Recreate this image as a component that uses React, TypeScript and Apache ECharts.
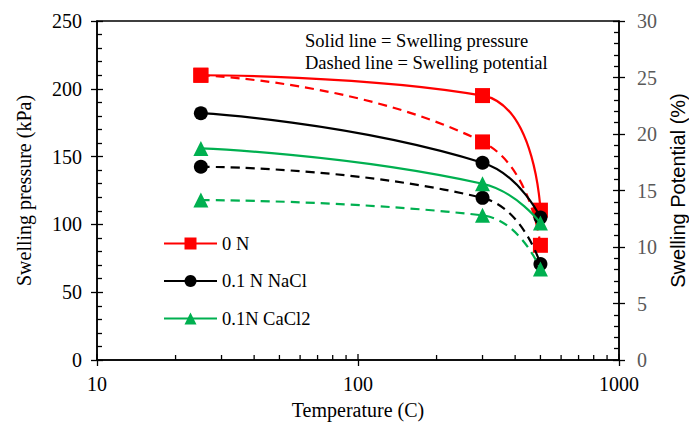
import React, { useEffect, useRef } from "react";
import * as echarts from "echarts";

const temperatures = [25, 300, 500];
const pressure0N = [210, 195, 110.5];
const pressureNaCl = [182, 145.5, 105];
const pressureCaCl2 = [156, 130, 101];
const potential0N = [25.2, 19.3, 10.15];
const potentialNaCl = [17.1, 14.35, 8.5];
const potentialCaCl2 = [14.15, 12.8, 8.05];
const seriesNames = ["0 N", "0.1 N NaCl", "0.1N CaCl2"];
const seriesColors = ["#FF0000", "#000000", "#00B050"];
const seriesSymbols = ["rect", "circle", "triangle"];
const xMajorTicks = [10, 100, 1000];
const xMinorTicks = [20, 30, 40, 50, 60, 70, 80, 90, 200, 300, 400, 500, 600, 700, 800, 900];
const annotationLines = ["Solid line = Swelling pressure", "Dashed line = Swelling potential"];

const SERIF = "Liberation Serif";
const SANS = "Liberation Sans";

export default function App() {
  const ref = useRef<HTMLDivElement>(null);
  useEffect(() => {
    if (!ref.current) return;
    document.body.style.margin = "0";
    const chart = echarts.init(ref.current, null, { renderer: "svg" });
    const pressures = [pressure0N, pressureNaCl, pressureCaCl2];
    const potentials = [potential0N, potentialNaCl, potentialCaCl2];
    const series: any[] = [];
    seriesNames.forEach((name, i) => {
      const sym = seriesSymbols[i];
      const size = sym === "rect" ? 15 : sym === "circle" ? 14 : 15;
      series.push({
        name,
        type: "line",
        xAxisIndex: 0,
        yAxisIndex: 0,
        smooth: 0.5,
        data: temperatures.map((t, k) => [t, pressures[i][k]]),
        symbol: sym,
        symbolSize: size,
        lineStyle: { color: seriesColors[i], width: 2.2, type: "solid" },
        itemStyle: { color: seriesColors[i] },
        z: 3 + i * 2,
      });
      series.push({
        name: name + " (potential)",
        type: "line",
        xAxisIndex: 0,
        yAxisIndex: 1,
        smooth: 0.5,
        data: temperatures.map((t, k) => [t, potentials[i][k]]),
        symbol: sym,
        symbolSize: size,
        lineStyle: { color: seriesColors[i], width: 2.2, type: [9, 6] },
        itemStyle: { color: seriesColors[i] },
        z: 2 + i * 2,
      });
    });
    const tickSeries = (vals: number[], len: number) => ({
      type: "custom",
      xAxisIndex: 0,
      yAxisIndex: 0,
      silent: true,
      clip: false,
      z: 10,
      data: vals.map((v) => [v, 0]),
      encode: { x: 0, y: 1 },
      renderItem: (params: any, api: any) => {
        const p = api.coord([api.value(0), 0]);
        return {
          type: "line",
          shape: { x1: p[0], y1: p[1], x2: p[0], y2: p[1] - len },
          style: { stroke: "#000", lineWidth: 1.3 },
        };
      },
    });
    series.push(tickSeries(xMajorTicks, 6));
    series.push(tickSeries(xMinorTicks, 5));

    const baseLabel = { fontFamily: SERIF, fontSize: 20, color: "#000" };
    chart.setOption({
      animation: false,
      textStyle: { fontFamily: SERIF },
      grid: {
        left: 97,
        right: 70,
        top: 21,
        bottom: 70,
        outerBoundsMode: "none",
        containLabel: false,
        show: true,
        borderColor: "#000",
        borderWidth: 1.5,
        backgroundColor: "transparent",
      },
      legend: {
        data: seriesNames,
        orient: "vertical",
        left: 158,
        top: 229,
        itemWidth: 53,
        itemHeight: 15,
        itemGap: 18.5,
        textStyle: { fontFamily: SERIF, fontSize: 18.5, color: "#000" },
        selectedMode: false,
      },
      xAxis: [
        {
          type: "log",
          logBase: 10,
          min: 10,
          max: 1000,
          name: "Temperature (C)",
          nameLocation: "middle",
          nameGap: 40,
          nameTextStyle: { fontFamily: SERIF, fontSize: 20, color: "#000" },
          axisLine: { show: true, lineStyle: { color: "#000", width: 1.5 } },
          axisTick: { show: true, inside: false, length: 6, lineStyle: { color: "#000", width: 1.3 } },
          minorTick: { show: false },
          splitLine: { show: false },
          minorSplitLine: { show: false },
          axisLabel: { ...baseLabel, margin: 14, formatter: (v: number) => String(v) },
        },
      ],
      yAxis: [
        {
          type: "value",
          position: "left",
          offset: 0,
          min: 0,
          max: 250,
          interval: 50,
          name: "Swelling pressure (kPa)",
          nameLocation: "middle",
          nameGap: 63,
          nameRotate: 90,
          nameTextStyle: { fontFamily: SERIF, fontSize: 20, color: "#000" },
          axisLine: { show: true, lineStyle: { color: "#000", width: 1.5 } },
          axisTick: { show: true, inside: false, length: 6, lineStyle: { color: "#000", width: 1.3 } },
          splitLine: { show: false },
          axisLabel: { ...baseLabel, margin: 15 },
        },
        {
          type: "value",
          position: "right",
          offset: 0,
          min: 0,
          max: 30,
          interval: 5,
          name: "Swelling Potential (%)",
          nameLocation: "middle",
          nameGap: 46,
          nameRotate: 90,
          nameTextStyle: { fontFamily: SANS, fontSize: 20, color: "#000" },
          axisLine: { show: true, lineStyle: { color: "#000", width: 1.5 } },
          axisTick: { show: true, inside: false, length: 6, lineStyle: { color: "#000", width: 1.3 } },
          splitLine: { show: false },
          axisLabel: { ...baseLabel, color: "#595959", margin: 18 },
        },
        {
          type: "value",
          position: "left",
          offset: 0,
          min: 0,
          max: 250,
          interval: 50,
          axisLine: { show: false },
          axisTick: { show: true, inside: true, length: 6, lineStyle: { color: "#000", width: 1.3 } },
          minorTick: { show: true, splitNumber: 5, length: 5, lineStyle: { color: "#000", width: 1.3 } },
          splitLine: { show: false },
          axisLabel: { show: false },
        },
        {
          type: "value",
          position: "right",
          offset: 0,
          min: 0,
          max: 30,
          interval: 5,
          axisLine: { show: false },
          axisTick: { show: true, inside: true, length: 6, lineStyle: { color: "#000", width: 1.3 } },
          minorTick: { show: true, splitNumber: 5, length: 5, lineStyle: { color: "#000", width: 1.3 } },
          splitLine: { show: false },
          axisLabel: { show: false },
        },
      ],
      graphic: annotationLines.map((t, i) => ({
        type: "text",
        left: 305,
        top: 31 + i * 22,
        style: { text: t, fontFamily: SERIF, fontSize: 18.5, fill: "#000" },
      })),
      series,
    });
    return () => chart.dispose();
  }, []);
  return <div ref={ref} style={{ width: 689, height: 430 }} />;
}
